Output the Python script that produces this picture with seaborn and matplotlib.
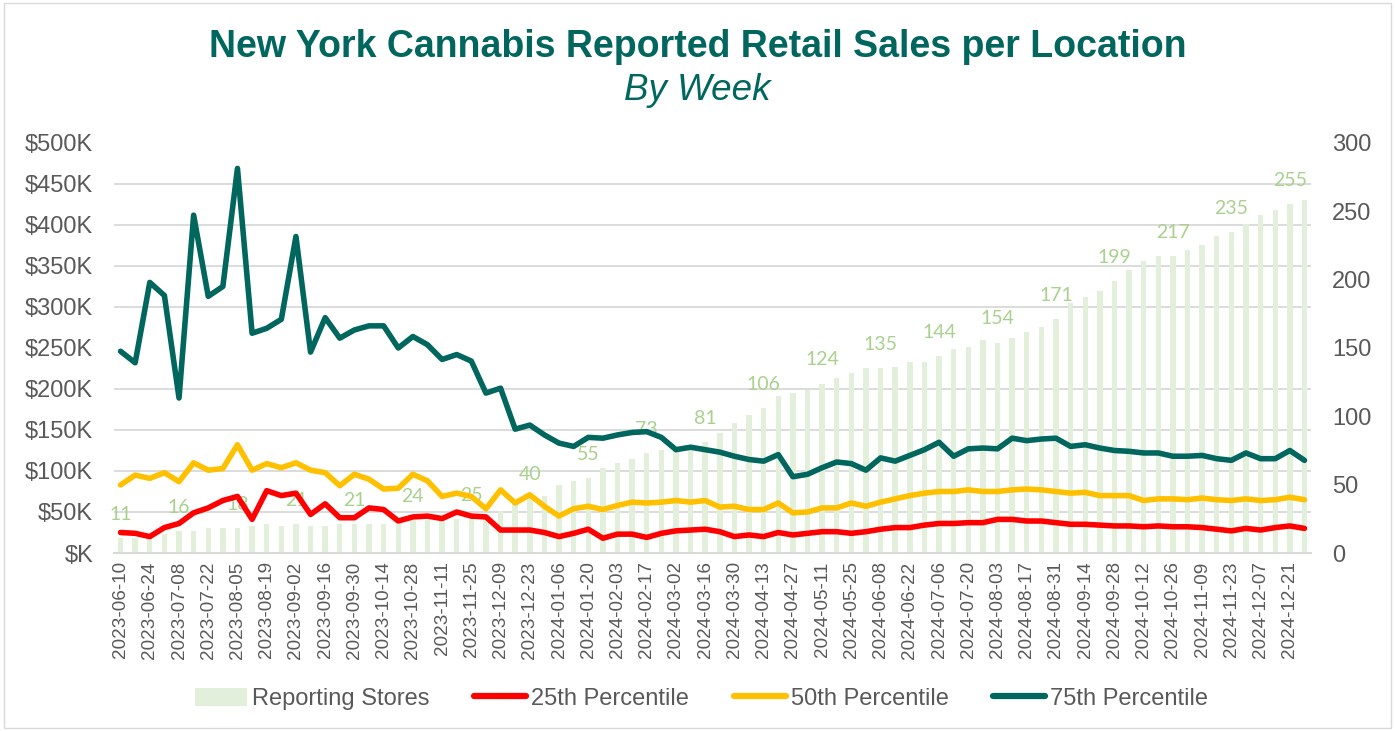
import matplotlib
matplotlib.use('Agg')
import matplotlib.pyplot as plt
import numpy as np
import pandas as pd
import seaborn as sns
from matplotlib.patches import Patch, Rectangle
from matplotlib.lines import Line2D
from matplotlib.ticker import FuncFormatter

# week ending dates (categories)
weeks = pd.date_range('2023-06-10', periods=82, freq='7D').strftime('%Y-%m-%d').tolist()

# number of reporting stores (right axis)
stores = [11, 11, 11, 14, 16, 16, 18, 18, 18, 20, 21, 20, 21, 20, 20, 21, 21, 21, 21, 21, 24, 24,
          24, 25, 25, 25, 31, 36, 40, 42, 50, 53, 55, 62, 66, 69, 73, 75, 77, 79, 81, 88, 95, 101,
          106, 115, 117, 119, 124, 128, 132, 135, 135, 136, 140, 140, 144, 149, 151, 156, 154, 157, 162, 165, 171, 183,
          187, 192, 199, 207, 214, 217, 217, 222, 225, 232, 235, 241, 247, 251, 255, 258]

# weekly sales per location, $K (left axis)
p25 = [25, 24, 20, 31, 36, 49, 55, 64, 69, 41, 76, 70, 73, 47, 60, 43, 43, 55, 53, 39, 44, 45,
       42, 50, 45, 44, 28, 28, 28, 25, 20, 24, 29, 18, 23, 23, 19, 24, 27, 28, 29, 26, 20, 22,
       20, 25, 22, 24, 26, 26, 24, 26, 29, 31, 31, 34, 36, 36, 37, 37, 41, 41, 39, 39, 37, 35,
       35, 34, 33, 33, 32, 33, 32, 32, 31, 29, 27, 30, 28, 31, 33, 30]
p50 = [83, 95, 91, 98, 87, 110, 101, 103, 132, 101, 109, 104, 110, 101, 98, 82, 96, 90, 78, 79, 96, 88,
       69, 73, 69, 54, 77, 61, 71, 57, 45, 54, 57, 53, 58, 62, 61, 62, 64, 62, 64, 56, 57, 53,
       53, 61, 49, 50, 55, 55, 61, 57, 62, 66, 70, 73, 75, 75, 77, 75, 75, 77, 78, 77, 75, 73,
       74, 70, 70, 70, 64, 66, 66, 65, 67, 65, 64, 66, 64, 65, 68, 65]
p75 = [246, 232, 330, 314, 189, 412, 313, 325, 469, 268, 274, 285, 386, 245, 287, 262, 272, 277, 277, 250, 264, 254,
       236, 242, 234, 195, 201, 151, 156, 144, 134, 130, 141, 140, 144, 147, 148, 141, 126, 129, 126, 123, 118, 114,
       112, 120, 93, 96, 104, 111, 109, 101, 116, 112, 119, 126, 135, 118, 127, 128, 127, 140, 137, 139, 140, 130,
       132, 128, 125, 124, 122, 122, 118, 118, 119, 115, 113, 122, 115, 115, 125, 113]

TEAL = '#00665E'
RED = '#FF0000'
GOLD = '#FFC000'
BAR = '#E2EFDA'
LABEL_GREEN = '#A9D18E'
GRAY = '#595959'
GRID = '#D9D9D9'

sns.set_style('white')
plt.rcParams['font.family'] = ['Liberation Sans', 'DejaVu Sans']

df = pd.DataFrame({'week': weeks, 'stores': stores, 'p25': p25, 'p50': p50, 'p75': p75})
df['pos'] = np.arange(len(df))

fig = plt.figure(figsize=(13.95, 7.31), dpi=100)
ax = fig.add_axes([0.0817, 0.2435, 0.8581, 0.5609])
ax2 = ax.twinx()

# bars (reporting stores) on the back axes, shown on the right
sns.barplot(data=df, x='week', y='stores', ax=ax, color=BAR, width=0.37,
            saturation=1, edgecolor='none', zorder=2)
ax.set_ylim(0, 300)
ax.yaxis.tick_right()
ax.yaxis.set_label_position('right')
ax.set_yticks(np.arange(0, 301, 50))
ax.set_yticks(np.arange(0, 301, 30), minor=True)
ax.grid(which='minor', axis='y', color=GRID, linewidth=1.3, zorder=0)
ax.grid(which='major', axis='y', visible=False)
ax.tick_params(axis='y', which='both', length=0, labelsize=17, labelcolor=GRAY, pad=15)

bar_labels = [str(v) if i % 4 == 0 and i <= 80 else '' for i, v in enumerate(stores)]
ax.bar_label(ax.containers[0], labels=bar_labels, padding=11, color=LABEL_GREEN,
             fontsize=14, family='Lato')

ax.set_xticks(np.arange(0, len(weeks), 2))
ax.set_xticklabels(weeks[::2], rotation=90)
ax.tick_params(axis='x', length=0, labelsize=13.6, labelcolor=GRAY, pad=6)
ax.set_xlim(-0.45, len(weeks) - 0.55)
ax.set_xlabel('')
ax.set_ylabel('')

# percentile lines on the front axes, shown on the left
for col, colr in [('p25', RED), ('p50', GOLD), ('p75', TEAL)]:
    sns.lineplot(data=df, x='pos', y=col, ax=ax2, color=colr, linewidth=4,
                 solid_joinstyle='round', zorder=3)
ax2.set_ylim(0, 500)
ax2.yaxis.tick_left()
ax2.yaxis.set_label_position('left')
ax2.set_yticks(np.arange(0, 501, 50))
ax2.yaxis.set_major_formatter(FuncFormatter(lambda v, p: '$K' if v == 0 else f'${int(v)}K'))
ax2.tick_params(axis='y', length=0, labelsize=17, labelcolor=GRAY, pad=15)
ax2.set_xlabel('')
ax2.set_ylabel('')
ax2.grid(False)

for a in (ax, ax2):
    for s in ['top', 'left', 'right']:
        a.spines[s].set_visible(False)
    a.spines['bottom'].set_color(GRID)
    a.spines['bottom'].set_linewidth(1.3)

fig.text(0.5, 0.936, 'New York Cannabis Reported Retail Sales per Location', ha='center', va='center',
         fontsize=27, fontweight='bold', color=TEAL)
fig.text(0.5, 0.876, 'By Week', ha='center', va='center', fontsize=26.5, fontstyle='italic', color=TEAL)

handles = [Patch(facecolor=BAR, edgecolor='none'),
           Line2D([0], [0], color=RED, linewidth=4.5, solid_capstyle='round'),
           Line2D([0], [0], color=GOLD, linewidth=4.5, solid_capstyle='round'),
           Line2D([0], [0], color=TEAL, linewidth=4.5, solid_capstyle='round')]
fig.legend(handles, ['Reporting Stores', '25th Percentile', '50th Percentile', '75th Percentile'],
           loc='center', bbox_to_anchor=(0.503, 0.044), ncol=4, frameon=False, fontsize=17,
           labelcolor=GRAY, handlelength=2.2, handleheight=0.8, handletextpad=0.2, columnspacing=1.9)

fig.patches.append(Rectangle((0.003, 0.004), 0.994, 0.992, transform=fig.transFigure,
                             fill=False, edgecolor=GRID, linewidth=1))

fig.savefig('out.png', dpi=100)
